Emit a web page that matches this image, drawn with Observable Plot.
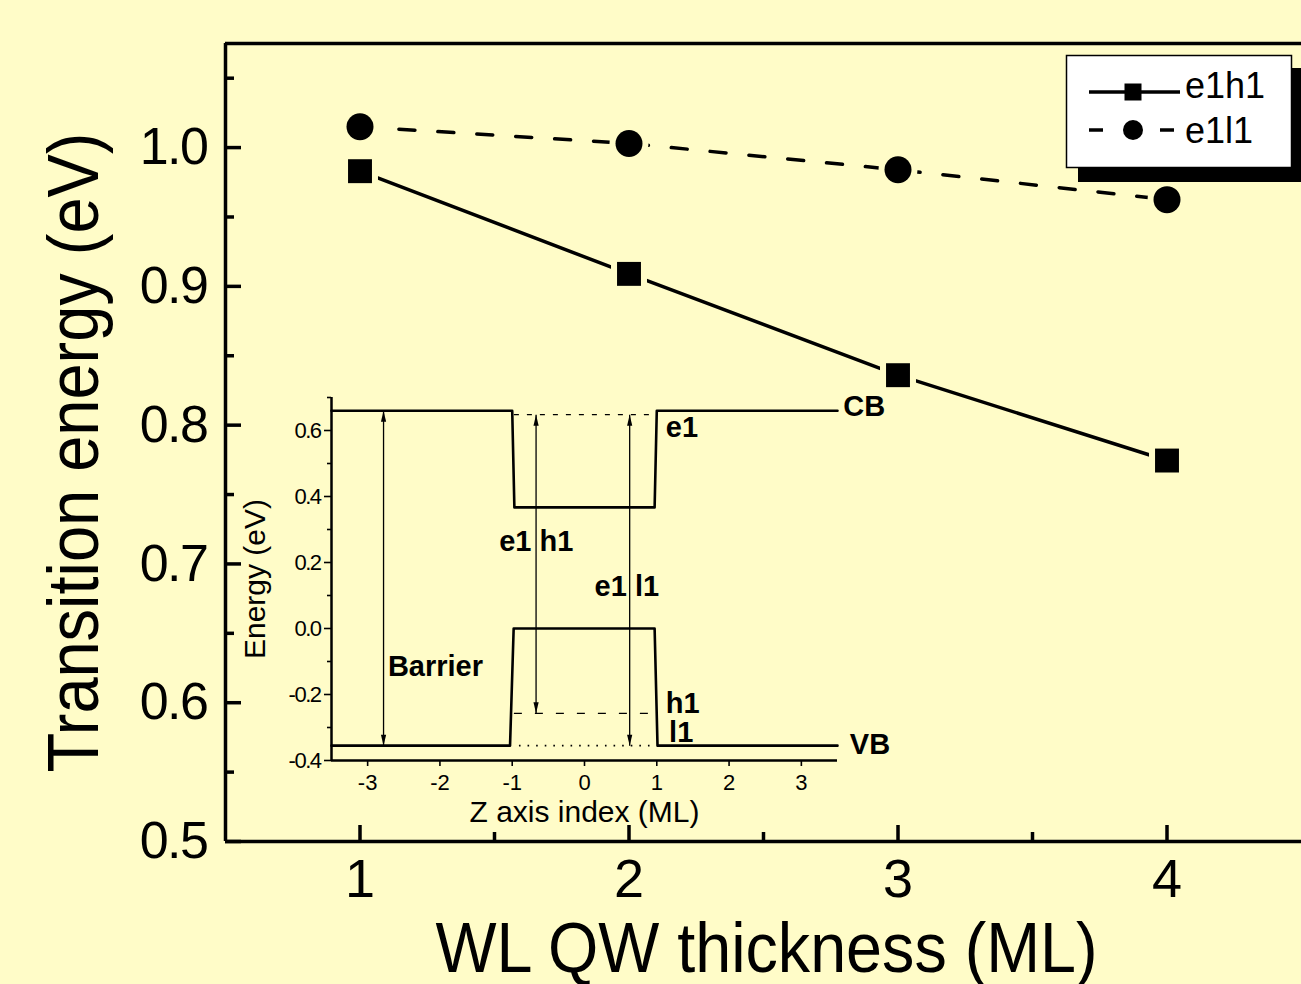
<!DOCTYPE html>
<html><head><meta charset="utf-8">
<script src="https://cdn.jsdelivr.net/npm/d3@7"></script>
<script src="https://cdn.jsdelivr.net/npm/@observablehq/plot@0.6"></script>
<style>
html,body{margin:0;padding:0;background:#fffcc8;}
#wrap{position:relative;width:1301px;height:984px;overflow:hidden;}
#wrap > svg, #wrap > div{position:absolute;}
g[aria-label="y-axis tick label"] text{letter-spacing:-1.5px;}
</style></head><body><div id="wrap"></div>
<script>
// ---------- main chart data ----------
const thickness = [1, 2, 3, 4];                 // WL QW thickness (ML)
const e1h1 = [0.983, 0.909, 0.836, 0.7745];     // eV
const e1l1 = [1.015, 1.003, 0.984, 0.9625];     // eV
const seriesNames = ["e1h1", "e1l1"];
const xDomain = [0.5, 4.5];
const yDomain = [0.5, 1.075];
const xMajor = [1, 2, 3, 4];
const xMinor = [1.5, 2.5, 3.5];
const yMajor = [0.5, 0.6, 0.7, 0.8, 0.9, 1.0];
const yMinor = [0.55, 0.65, 0.75, 0.85, 0.95, 1.05];
const xTitle = "WL QW thickness (ML)";
const yTitle = "Transition energy (eV)";

// ---------- inset data ----------
const cbZ = [-3.5, -1.0, -0.97, 0.97, 1.0, 3.5];
const cbE = [0.66, 0.66, 0.367, 0.367, 0.66, 0.66];
const vbZ = [-3.5, -1.03, -0.98, 0.97, 1.01, 3.5];
const vbE = [-0.355, -0.355, 0.0, 0.0, -0.355, -0.355];
const levelNames = ["e1", "h1", "l1"];
const levelE = [0.648, -0.257, -0.355];
const levelZ1 = [-0.97, -0.97, -0.9];
const levelZ2 = [0.97, 0.97, 0.97];
const arrowNames = ["Barrier", "e1 h1", "e1 l1"];
const arrowZ = [-2.78, -0.67, 0.625];
const arrowTop = [0.66, 0.648, 0.648];
const arrowBottom = [-0.355, -0.257, -0.355];
const labelText = ["CB", "VB", "e1", "h1", "l1", "Barrier", "e1 h1", "e1 l1"];
const labelZ = [3.58, 3.67, 1.125, 1.125, 1.17, -2.72, -1.18, 0.14];
const labelE = [0.673, -0.352, 0.609, -0.227, -0.315, -0.115, 0.264, 0.127];
const insetXDomain = [-3.5, 3.5];
const insetYDomain = [-0.4, 0.7];
const insetXTicks = [-3, -2, -1, 0, 1, 2, 3];
const insetYMajor = [-0.4, -0.2, 0.0, 0.2, 0.4, 0.6];
const insetYMinor = [-0.3, -0.1, 0.1, 0.3, 0.5, 0.7];

const bg = "#fffcc8";
const FONT = "'Liberation Sans', Arial, Helvetica, sans-serif";

const h1rows = thickness.map((t, i) => ({t, E: e1h1[i]}));
const l1rows = thickness.map((t, i) => ({t, E: e1l1[i]}));

const main = Plot.plot({
  width: 1301, height: 984,
  marginLeft: 225, marginRight: 0, marginTop: 43, marginBottom: 143,
  style: {background: bg, fontFamily: FONT, overflow: "visible", color: "black"},
  x: {domain: xDomain},
  y: {domain: yDomain},
  marks: [
    Plot.ruleX([xDomain[0]], {stroke: "black", strokeWidth: 3.5}),
    Plot.ruleY(yDomain, {stroke: "black", strokeWidth: 3.5}),
    Plot.axisY({ticks: yMajor, tickSize: 16, dx: 16, tickFormat: () => "", label: null, strokeWidth: 3.5}),
    Plot.axisY({ticks: yMinor, tickSize: 9, dx: 9, tickFormat: () => "", label: null, strokeWidth: 3.5}),
    Plot.axisY({ticks: yMajor, tickSize: 0, tickPadding: 18, tickFormat: d => d.toFixed(1), label: null, fontSize: 52}),
    Plot.axisX({ticks: xMajor, tickSize: 16, dy: -16, tickFormat: () => "", label: null, strokeWidth: 3.5}),
    Plot.axisX({ticks: xMinor, tickSize: 9, dy: -9, tickFormat: () => "", label: null, strokeWidth: 3.5}),
    Plot.axisX({ticks: xMajor, tickSize: 0, tickPadding: 17, tickFormat: d => String(d), label: null, fontSize: 54}),
    Plot.line(h1rows, {x: "t", y: "E", stroke: "black", strokeWidth: 3.5}),
    Plot.line(l1rows, {x: "t", y: "E", stroke: "black", strokeWidth: 3.5, strokeDasharray: "16,23"}),
    Plot.dot(h1rows, {x: "t", y: "E", symbol: "square", r: 20.3, fill: bg, stroke: "none"}),
    Plot.dot(l1rows, {x: "t", y: "E", symbol: "circle", r: 19.5, fill: bg, stroke: "none"}),
    Plot.dot(h1rows, {x: "t", y: "E", symbol: "square", r: 13.5, fill: "black", stroke: "none"}),
    Plot.dot(l1rows, {x: "t", y: "E", symbol: "circle", r: 13.5, fill: "black", stroke: "none"}),
    Plot.text([yTitle], {text: d => d, frameAnchor: "left", textAnchor: "middle", rotate: -90, dx: -151, dy: 10, fontSize: 72, lineAnchor: "middle", fill: "black"}),
    Plot.text([xTitle], {text: d => d, frameAnchor: "bottom", textAnchor: "middle", lineAnchor: "top", dy: 81, dx: 3, fontSize: 70, fill: "black"})
  ]
});
main.style.left = "0px"; main.style.top = "0px";
document.getElementById("wrap").appendChild(main);
// condensed look of the original axis titles
d3.select(main).selectAll("text").each(function () {
  if (this.textContent === xTitle) d3.select(this).attr("textLength", 662).attr("lengthAdjust", "spacingAndGlyphs");
  if (this.textContent === yTitle) d3.select(this).attr("textLength", 640).attr("lengthAdjust", "spacingAndGlyphs");
});

// ---------- inset ----------
const cbRows = cbZ.map((z, i) => ({z, E: cbE[i]}));
const vbRows = vbZ.map((z, i) => ({z, E: vbE[i]}));
const levels = levelNames.map((n, i) => ({n, E: levelE[i], z1: levelZ1[i], z2: levelZ2[i]}));
const arrows = arrowNames.map((n, i) => ({n, z: arrowZ[i], top: arrowTop[i], bot: arrowBottom[i]}));
const labels = labelText.map((t, i) => ({t, z: labelZ[i], E: labelE[i]}));
const headUp = {draw(ctx) { ctx.moveTo(0, 0); ctx.lineTo(-2.6, 11); ctx.lineTo(2.6, 11); ctx.closePath(); }};
const headDown = {draw(ctx) { ctx.moveTo(0, 0); ctx.lineTo(-2.6, -11); ctx.lineTo(2.6, -11); ctx.closePath(); }};

const inset = Plot.plot({
  width: 680, height: 460,
  marginLeft: 101, marginRight: 73, marginTop: 17, marginBottom: 80,
  style: {background: "transparent", fontFamily: FONT, overflow: "visible", color: "black"},
  x: {domain: insetXDomain},
  y: {domain: insetYDomain},
  marks: [
    Plot.ruleX([insetXDomain[0]], {stroke: "black", strokeWidth: 2.5}),
    Plot.ruleY([insetYDomain[0]], {stroke: "black", strokeWidth: 2.5}),
    Plot.axisY({ticks: insetYMajor, tickSize: 7, tickPadding: 4, tickFormat: d => d.toFixed(1), label: null, fontSize: 22, strokeWidth: 1.6}),
    Plot.axisY({ticks: insetYMinor, tickSize: 4, tickFormat: () => "", label: null, strokeWidth: 1.6}),
    Plot.axisX({ticks: insetXTicks, tickSize: 6, tickPadding: 8, tickFormat: d => String(d), label: null, fontSize: 22, strokeWidth: 1.6}),
    Plot.line(cbRows, {x: "z", y: "E", stroke: "black", strokeWidth: 2.6}),
    Plot.line(vbRows, {x: "z", y: "E", stroke: "black", strokeWidth: 2.6}),
    Plot.ruleY(levels.filter(d => d.n === "e1"), {y: "E", x1: "z1", x2: "z2", stroke: "black", strokeWidth: 1.3, strokeDasharray: "5,8"}),
    Plot.ruleY(levels.filter(d => d.n === "h1"), {y: "E", x1: "z1", x2: "z2", stroke: "black", strokeWidth: 1.3, strokeDasharray: "8,13"}),
    Plot.ruleY(levels.filter(d => d.n === "l1"), {y: "E", x1: "z1", x2: "z2", stroke: "black", strokeWidth: 1.6, strokeDasharray: "1.6,7"}),
    Plot.link(arrows, {x1: "z", x2: "z", y1: "top", y2: "bot", stroke: "black", strokeWidth: 1.3}),
    Plot.dot(arrows, {x: "z", y: "top", symbol: headUp, fill: "black", stroke: "none"}),
    Plot.dot(arrows, {x: "z", y: "bot", symbol: headDown, fill: "black", stroke: "none"}),
    Plot.text(labels, {x: "z", y: "E", text: "t", textAnchor: "start", lineAnchor: "middle", fontWeight: "bold", fontSize: 29, fill: "black"}),
    Plot.text(["Energy (eV)"], {text: d => d, frameAnchor: "left", textAnchor: "middle", rotate: -90, dx: -76, fontSize: 30, lineAnchor: "middle", fill: "black"}),
    Plot.text(["Z axis index (ML)"], {text: d => d, frameAnchor: "bottom", textAnchor: "middle", lineAnchor: "top", dy: 40, fontSize: 30, fill: "black"})
  ]
});
inset.style.left = "230px"; inset.style.top = "380px";
document.getElementById("wrap").appendChild(inset);

// ---------- legend ----------
const leg = d3.create("svg").attr("width", 1301).attr("height", 984)
  .style("left", "0px").style("top", "0px").style("font-family", FONT);
leg.append("rect").attr("x", 1078).attr("y", 68).attr("width", 226).attr("height", 114).attr("fill", "black");
leg.append("rect").attr("x", 1066.5).attr("y", 55.5).attr("width", 225).attr("height", 112).attr("fill", "white").attr("stroke", "black").attr("stroke-width", 1.5);
// row 1
leg.append("line").attr("x1", 1089).attr("x2", 1180).attr("y1", 92).attr("y2", 92).attr("stroke", "black").attr("stroke-width", 3.5);
leg.append("rect").attr("x", 1124.5).attr("y", 83.5).attr("width", 17).attr("height", 17).attr("fill", "black");
leg.append("text").attr("x", 1185).attr("y", 98).attr("font-size", 36).text(seriesNames[0]);
// row 2
leg.append("line").attr("x1", 1089).attr("x2", 1103).attr("y1", 130).attr("y2", 130).attr("stroke", "black").attr("stroke-width", 3.5);
leg.append("line").attr("x1", 1160).attr("x2", 1174).attr("y1", 130).attr("y2", 130).attr("stroke", "black").attr("stroke-width", 3.5);
leg.append("circle").attr("cx", 1133).attr("cy", 130).attr("r", 10).attr("fill", "black");
leg.append("text").attr("x", 1185).attr("y", 143).attr("font-size", 36).text(seriesNames[1]);
document.getElementById("wrap").appendChild(leg.node());
</script></body></html>
